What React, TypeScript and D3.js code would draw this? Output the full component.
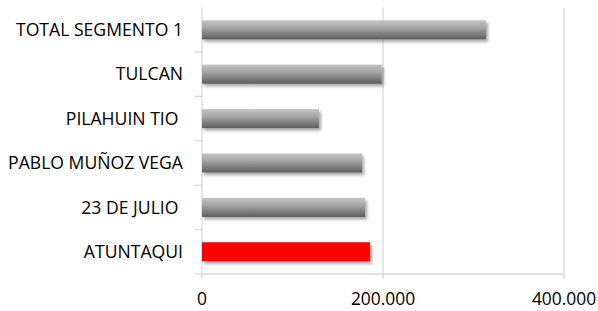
import React, { useEffect, useRef } from 'react'
import * as d3 from 'd3'

const categories = ['TOTAL SEGMENTO 1', 'TULCAN', 'PILAHUIN TIO ', 'PABLO MUÑOZ VEGA', '23 DE JULIO ', 'ATUNTAQUI']
const values = [313800, 198600, 129300, 176800, 180100, 185600]
const highlighted = ['ATUNTAQUI']
const xTicks = [0, 200000, 400000]

const W = 598
const H = 311

export default function App() {
  const ref = useRef<SVGSVGElement | null>(null)

  useEffect(() => {
    document.body.style.margin = '0'
    const svg = d3.select(ref.current)
    svg.selectAll('*').remove()

    const top = 7.6
    const bottom = 274
    const x = d3.scaleLinear().domain([0, 400000]).range([202, 564])
    const y = d3.scaleBand().domain(categories).range([top, bottom]).paddingInner(0.57).paddingOuter(0.285)
    const fmt = d3.formatLocale({ decimal: ',', thousands: '.', grouping: [3], currency: ['$', ''] }).format(',d')

    const defs = svg.append('defs')
    const grad = defs.append('linearGradient').attr('id', 'barGrad').attr('x1', 0).attr('y1', 0).attr('x2', 0).attr('y2', 1)
    grad.append('stop').attr('offset', '0%').attr('stop-color', '#c4c4c4')
    grad.append('stop').attr('offset', '35%').attr('stop-color', '#a9a9a9')
    grad.append('stop').attr('offset', '100%').attr('stop-color', '#5e5e5e')
    const f = defs.append('filter').attr('id', 'shadow').attr('x', '-5%').attr('y', '-30%').attr('width', '115%').attr('height', '180%')
    f.append('feDropShadow').attr('dx', 2).attr('dy', 2.5).attr('stdDeviation', 1.6).attr('flood-color', '#000').attr('flood-opacity', 0.35)

    // gridlines
    svg.append('g')
      .selectAll('line')
      .data(xTicks)
      .join('line')
      .attr('x1', d => x(d))
      .attr('x2', d => x(d))
      .attr('y1', top)
      .attr('y2', 279)
      .attr('stroke', '#d9d9d9')
      .attr('stroke-width', 1.3)

    // bottom axis line
    svg.append('line')
      .attr('x1', x(0)).attr('x2', x(400000)).attr('y1', bottom).attr('y2', bottom)
      .attr('stroke', '#d9d9d9').attr('stroke-width', 1.3)

    // left ticks between categories
    const tickYs = categories.map((c, i) => top + y.step() * (i + 1))
    svg.append('g')
      .selectAll('line')
      .data(tickYs)
      .join('line')
      .attr('x1', 195).attr('x2', x(0))
      .attr('y1', d => d).attr('y2', d => d)
      .attr('stroke', '#d9d9d9').attr('stroke-width', 1.3)

    // bars
    svg.append('g')
      .selectAll('rect')
      .data(categories)
      .join('rect')
      .attr('x', x(0))
      .attr('y', d => y(d) as number)
      .attr('width', (d, i) => x(values[i]) - x(0))
      .attr('height', y.bandwidth())
      .attr('fill', d => (highlighted.includes(d) ? '#ff0000' : 'url(#barGrad)'))
      .attr('filter', 'url(#shadow)')

    // category labels
    svg.append('g')
      .selectAll('text')
      .data(categories)
      .join('text')
      .attr('x', 183)
      .attr('y', d => (y(d) as number) + y.bandwidth() / 2)
      .attr('dy', '0.35em')
      .attr('text-anchor', 'end')
      .style('white-space', 'pre')
      .attr('font-family', 'Open Sans')
      .attr('font-size', 17.6)
      .attr('fill', '#000')
      .text(d => d)

    // x tick labels
    svg.append('g')
      .selectAll('text')
      .data(xTicks)
      .join('text')
      .attr('x', d => x(d))
      .attr('y', 305)
      .attr('text-anchor', 'middle')
      .attr('font-family', 'Open Sans')
      .attr('font-size', 17.4)
      .attr('fill', '#000')
      .text(d => fmt(d))
  }, [])

  return <svg ref={ref} width={W} height={H} style={{ display: 'block', background: '#fff' }} />
}
